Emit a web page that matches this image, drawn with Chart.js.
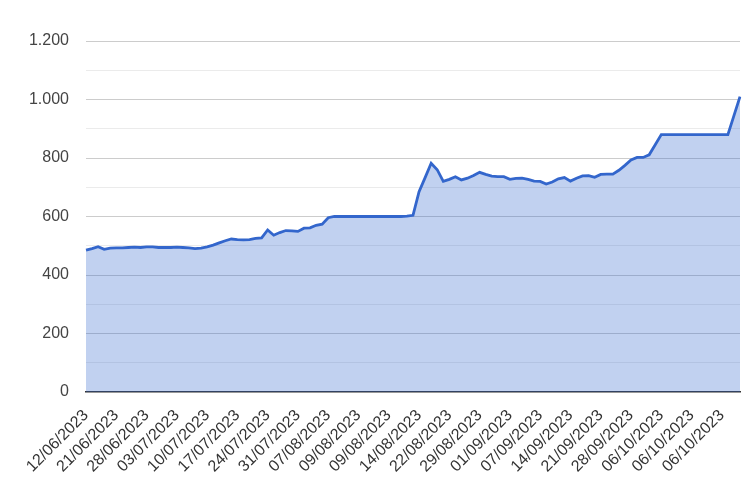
<!DOCTYPE html>
<html>
<head>
<meta charset="utf-8">
<script src="https://cdn.jsdelivr.net/npm/chart.js@4/dist/chart.umd.min.js"></script>
<style>
  html, body { margin: 0; padding: 0; background: #fff; }
  #wrap { width: 751px; height: 481px; position: relative; }
</style>
</head>
<body>
<div id="wrap"><canvas id="price-chart"></canvas></div>
<script>
// tick labels shown on the x axis (every 5th point)
const tickLabels = [
    '12/06/2023', '21/06/2023', '28/06/2023', '03/07/2023', '10/07/2023', '17/07/2023',
    '24/07/2023', '31/07/2023', '07/08/2023', '09/08/2023', '09/08/2023', '14/08/2023',
    '22/08/2023', '29/08/2023', '01/09/2023', '07/09/2023', '14/09/2023', '21/09/2023',
    '28/09/2023', '06/10/2023', '06/10/2023', '06/10/2023'
];

// values, one per point
const values = [
    485, 490, 497, 488, 492, 493, 493, 494, 495, 494, 496, 496, 494, 494, 494, 495, 494, 493, 490, 492, 496, 502,
    510, 517, 523, 521, 520, 521, 525, 527, 554, 536, 545, 552, 551, 549, 560, 561, 570, 574, 596, 600,
    600, 600, 600, 600, 600, 600, 600, 600, 600, 600, 600, 601, 604,
    685, 733, 782, 760, 720, 727, 736, 725, 731, 740,
    751, 744, 738, 736, 736, 727, 730, 731, 727, 721, 720, 711, 718, 729, 733, 721, 731, 739, 740, 734,
    744, 745, 745, 758, 775, 793, 802, 802, 811, 845,
    880, 880, 880, 880, 880, 880, 880, 880, 880, 880, 880, 880,
    945, 1010
];

const yTicks = [0, 200, 400, 600, 800, 1000, 1200];

const labels = values.map(function(v, i) {
    return i % 5 === 0 ? tickLabels[i / 5] : '';
});

function fmt(n) {
    return String(n).replace(/\B(?=(\d{3})+(?!\d))/g, '.');
}

const ctx = document.getElementById('price-chart').getContext('2d');
new Chart(ctx, {
    type: 'line',
    data: {
        labels: labels,
        datasets: [{
            data: values,
            borderColor: '#3366cc',
            backgroundColor: 'rgba(51, 102, 204, 0.3)',
            borderWidth: 2.8,
            fill: 'origin',
            tension: 0,
            pointRadius: 0,
            pointHoverRadius: 0
        }]
    },
    options: {
        responsive: true,
        maintainAspectRatio: false,
        animation: false,
        layout: {
            padding: { top: 41, right: 11, left: 0, bottom: 0 }
        },
        scales: {
            x: {
                grid: { display: false },
                border: { display: true, color: '#333333', width: 1.5 },
                ticks: {
                    autoSkip: false,
                    minRotation: 45,
                    maxRotation: 45,
                    padding: 6,
                    color: '#333333',
                    font: { family: 'Arial, "Liberation Sans", sans-serif', size: 16 },
                    callback: function(value, index) {
                        return labels[index] === '' ? null : labels[index];
                    }
                },
                afterFit: function(scale) {
                    scale.height = 89;
                }
            },
            y: {
                min: 0,
                max: 1200,
                grid: {
                    drawTicks: false,
                    color: function(c) {
                        const v = c.tick.value;
                        if (v === 0) return 'rgba(0,0,0,0)';
                        return yTicks.indexOf(v) >= 0 ? '#cccccc' : '#ebebeb';
                    }
                },
                border: { display: false },
                ticks: {
                    stepSize: 100,
                    padding: 17,
                    color: '#444444',
                    font: { family: 'Arial, "Liberation Sans", sans-serif', size: 16 },
                    callback: function(value) {
                        return yTicks.indexOf(value) >= 0 ? fmt(value) : '';
                    }
                },
                afterFit: function(scale) {
                    scale.width = 86;
                }
            }
        },
        plugins: {
            legend: { display: false },
            tooltip: { enabled: false }
        }
    }
});
</script>
</body>
</html>
